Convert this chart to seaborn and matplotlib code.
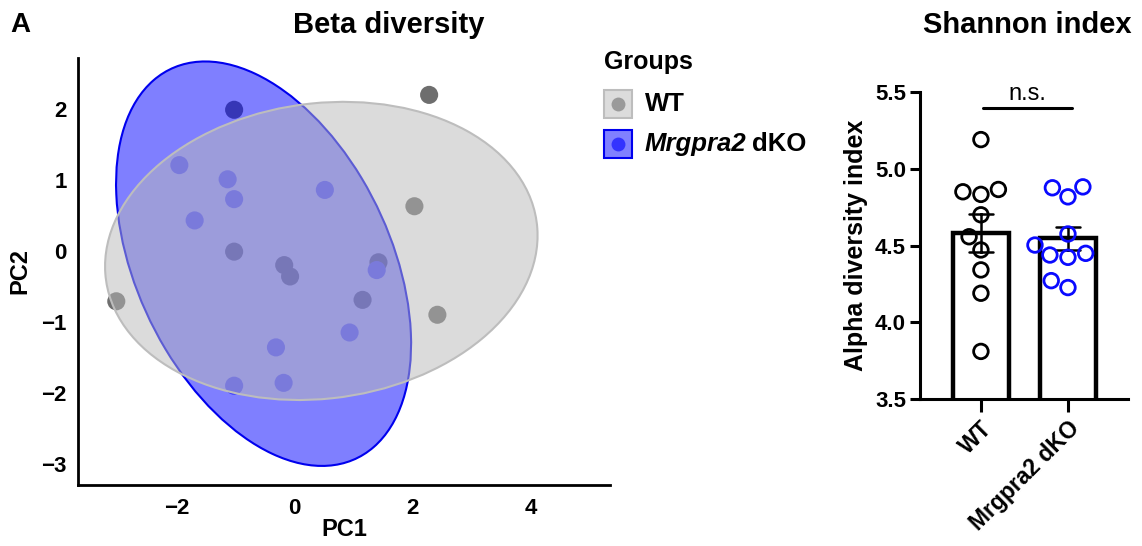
import numpy as np
import pandas as pd
import matplotlib
matplotlib.use("Agg")
import matplotlib.pyplot as plt
from matplotlib.patches import Ellipse, Rectangle
import seaborn as sns

sns.set_theme(style="ticks")
plt.rcParams['font.family'] = ['Liberation Sans', 'DejaVu Sans']
plt.rcParams['font.weight'] = 'bold'
plt.rcParams['text.color'] = 'black'
plt.rcParams['axes.labelcolor'] = 'black'
plt.rcParams['xtick.color'] = 'black'
plt.rcParams['ytick.color'] = 'black'

# ---------------- data ----------------
groups = ["WT", "Mrgpra2 dKO"]

wt_pc1 = [2.28, 2.03, 2.42, -3.03, -1.03, -0.18, -0.08, 1.42, 1.15, -1.03]
wt_pc2 = [2.20, 0.63, -0.90, -0.71, -0.01, -0.20, -0.36, -0.16, -0.69, 1.99]
ko_pc1 = [-1.96, -1.14, -1.03, -1.70, 0.51, 1.39, 0.93, -0.32, -0.19, -1.03]
ko_pc2 = [1.21, 1.01, 0.73, 0.43, 0.86, -0.27, -1.15, -1.36, -1.86, -1.90]

# ellipse parameters: center x, center y, width, height, angle
wt_ellipse = [0.45, 0.00, 7.36, 4.17, 5.0]
ko_ellipse = [-0.53, -0.18, 6.38, 4.11, -54.1]

wt_shannon = [5.19, 4.85, 4.833, 4.865, 4.70, 4.557, 4.471, 4.341, 4.189, 3.810]
ko_shannon = [4.817, 4.876, 4.882, 4.575, 4.503, 4.438, 4.423, 4.449, 4.271, 4.226]

pc_xticks = [-2, 0, 2, 4]
pc_yticks = [-3, -2, -1, 0, 1, 2]
alpha_yticks = [3.5, 4.0, 4.5, 5.0, 5.5]

pca_df = pd.DataFrame({
    "PC1": wt_pc1 + ko_pc1,
    "PC2": wt_pc2 + ko_pc2,
    "group": [groups[0]] * len(wt_pc1) + [groups[1]] * len(ko_pc1),
})
alpha_df = pd.DataFrame({
    "value": wt_shannon + ko_shannon,
    "group": [groups[0]] * len(wt_shannon) + [groups[1]] * len(ko_shannon),
})

W, H = 1142, 546
fig = plt.figure(figsize=(W / 100, H / 100), dpi=100)

def fx(px):
    return px / W

def fy(py):
    return 1 - py / H

# ---------------- left: PCA ----------------
ax = fig.add_axes([fx(78), fy(485), fx(610) - fx(78), fy(58) - fy(485)])
sns.scatterplot(data=pca_df, x="PC1", y="PC2", hue="group", hue_order=groups,
                palette={groups[0]: "#6e6e6e", groups[1]: "#7a7aff"},
                s=170, edgecolor="none", legend=False, ax=ax, zorder=1)

e_ko = Ellipse((ko_ellipse[0], ko_ellipse[1]), ko_ellipse[2], ko_ellipse[3], angle=ko_ellipse[4],
               facecolor=(0, 0, 1, 0.5), edgecolor="#0000ee", linewidth=1.5, zorder=2)
e_wt = Ellipse((wt_ellipse[0], wt_ellipse[1]), wt_ellipse[2], wt_ellipse[3], angle=wt_ellipse[4],
               facecolor=(0.725, 0.725, 0.725, 0.5), edgecolor="#bdbdbd", linewidth=1.5, zorder=3)
ax.add_patch(e_ko)
ax.add_patch(e_wt)

ax.set_xlim(-3.68, 5.35)
ax.set_ylim(-3.3, 2.72)
ax.set_xticks(pc_xticks)
ax.set_yticks(pc_yticks)
ax.set_xticklabels([f"\u2212{abs(t)}" if t < 0 else str(t) for t in pc_xticks])
ax.set_yticklabels([f"\u2212{abs(t)}" if t < 0 else str(t) for t in pc_yticks])
ax.tick_params(axis="both", length=0, labelsize=16, colors="black")
ax.tick_params(axis="x", pad=9)
ax.tick_params(axis="y", pad=8)
for lab in ax.get_xticklabels() + ax.get_yticklabels():
    lab.set_fontweight("bold")
for sp in ["top", "right"]:
    ax.spines[sp].set_visible(False)
for sp in ["left", "bottom"]:
    ax.spines[sp].set_linewidth(2.0)
    ax.spines[sp].set_color("black")
ax.set_xlabel("PC1", fontsize=17, fontweight="bold", labelpad=0)
ax.set_ylabel("PC2", fontsize=17, fontweight="bold", labelpad=7)
ax.set_facecolor("white")

fig.text(fx(20), fy(25), "A", fontsize=20, fontweight="bold", ha="center", va="center")
fig.text(fx(389), fy(25), "Beta diversity", fontsize=21, fontweight="bold", ha="center", va="center")

# legend (manual)
fig.text(fx(604), fy(62), "Groups", fontsize=18, fontweight="bold", ha="left", va="center")
fig.add_artist(Rectangle((fx(604), fy(118)), fx(28), fy(90) - fy(118), transform=fig.transFigure,
                         facecolor="#dcdcdc", edgecolor="#bdbdbd", linewidth=1.5))
fig.add_artist(Rectangle((fx(604), fy(158)), fx(28), fy(130) - fy(158), transform=fig.transFigure,
                         facecolor="#8080ff", edgecolor="#0000ee", linewidth=1.5))
fig.add_artist(plt.Line2D([fx(618)], [fy(104)], marker="o", markersize=10, color="#9a9a9a",
                          markeredgewidth=0, transform=fig.transFigure))
fig.add_artist(plt.Line2D([fx(618)], [fy(144)], marker="o", markersize=10, color="#3333ff",
                          markeredgewidth=0, transform=fig.transFigure))
fig.text(fx(645), fy(104), "WT", fontsize=18.5, fontweight="bold", ha="left", va="center")
t1 = fig.text(fx(645), fy(144), "Mrgpra2", fontsize=18.5, fontweight="bold", style="italic",
              ha="left", va="center")
fig.canvas.draw()
bb = t1.get_window_extent(renderer=fig.canvas.get_renderer())
fig.text(bb.x1 / fig.bbox.width + fx(5), fy(144), "dKO", fontsize=18.5, fontweight="bold",
         ha="left", va="center")

# ---------------- right: Shannon ----------------
ax2 = fig.add_axes([fx(920), fy(399), fx(1128) - fx(920), fy(92) - fy(399)])
sns.barplot(data=alpha_df, x="group", y="value", order=groups, errorbar="se",
            color="white", edgecolor="black", linewidth=3.2, width=0.64,
            capsize=0.27, err_kws={"color": "black", "linewidth": 1.8}, ax=ax2)
sns.swarmplot(data=alpha_df, x="group", y="value", order=groups, hue="group", hue_order=groups,
              palette={groups[0]: "black", groups[1]: "#0a0aff"}, size=10.5, linewidth=0,
              legend=False, ax=ax2, zorder=5)
for coll, col in zip(ax2.collections[-2:], ["black", "#0a0aff"]):
    coll.set_facecolor("none")
    coll.set_edgecolor(col)
    coll.set_linewidth(2.0)

ax2.set_ylim(3.5, 5.5)
ax2.set_xlim(-0.70, 1.69)
ax2.set_yticks(alpha_yticks)
ax2.set_yticklabels([f"{t:.1f}" for t in alpha_yticks])
ax2.tick_params(axis="y", length=7, width=2.2, labelsize=16, pad=3, colors="black")
ax2.tick_params(axis="x", length=9, width=2.2, labelsize=16.5, pad=4, colors="black")
ax2.set_xticks([0, 1])
ax2.set_xticklabels(groups, rotation=45, ha="right", rotation_mode="anchor", fontweight="bold")
for lab in ax2.get_yticklabels():
    lab.set_fontweight("bold")
for sp in ["top", "right"]:
    ax2.spines[sp].set_visible(False)
for sp in ["left", "bottom"]:
    ax2.spines[sp].set_linewidth(2.2)
    ax2.spines[sp].set_color("black")
ax2.set_xlabel("")
ax2.set_ylabel("Alpha diversity index", fontsize=18, fontweight="bold", labelpad=5)
ax2.set_facecolor("white")
ax2.plot([0.02, 1.05], [5.396, 5.396], color="black", linewidth=2.2, clip_on=False)
ax2.text(0.53, 5.448, "n.s.", fontsize=17, fontweight="normal", ha="center", va="baseline",
         clip_on=False)
fig.text(fx(1027), fy(25), "Shannon index", fontsize=21, fontweight="bold",
         ha="center", va="center")

fig.savefig("out.png", dpi=100, facecolor="white")
